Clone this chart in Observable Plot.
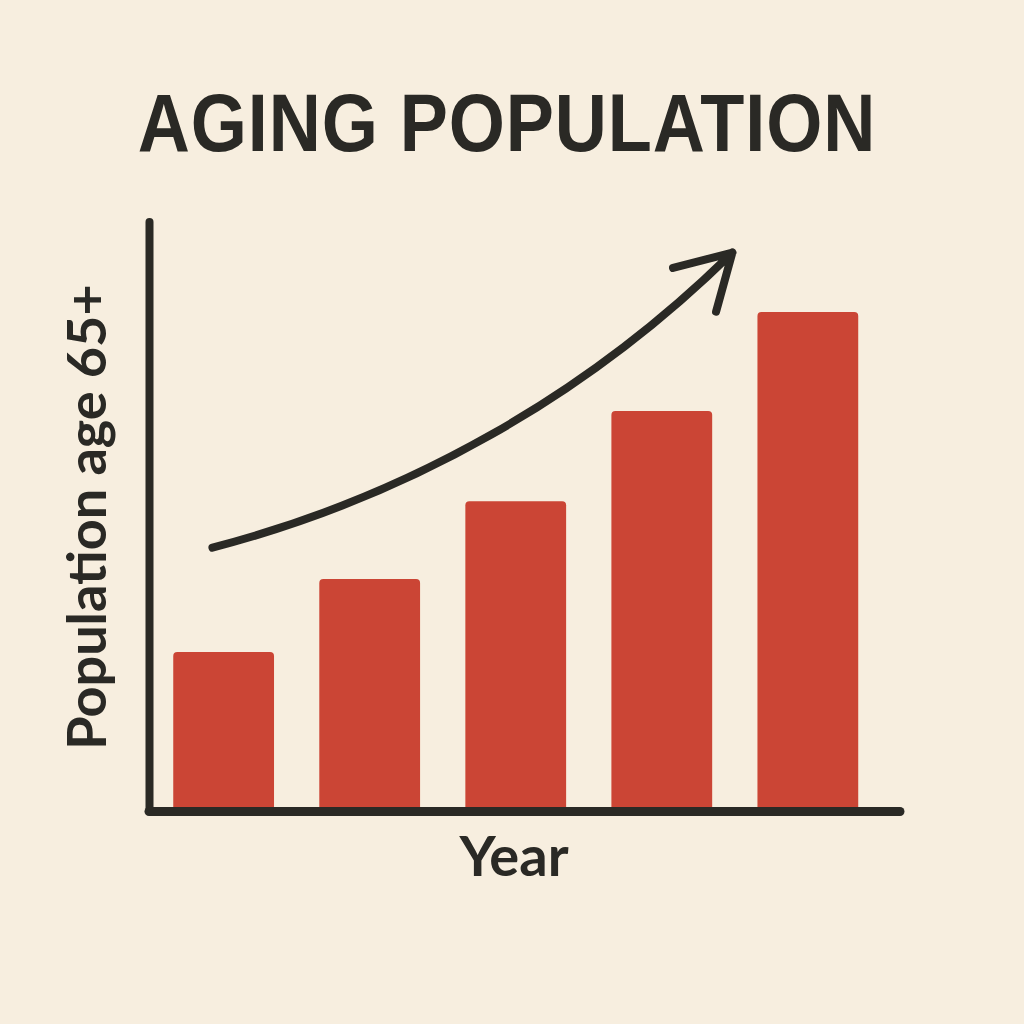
<!DOCTYPE html>
<html>
<head>
<meta charset="utf-8">
<script src="https://cdn.jsdelivr.net/npm/d3@7"></script>
<script src="https://cdn.jsdelivr.net/npm/@observablehq/plot@0.6"></script>
<style>
  html, body { margin: 0; padding: 0; background: #f7eedf; }
  #wrap { width: 1024px; height: 1024px; overflow: hidden; background: #f7eedf; }
  #title { height: 200px; position: relative; }
  #title span {
    position: absolute; left: 0; width: 1024px; top: 78px; text-align: center;
    font-family: "Liberation Sans", Arial, sans-serif; font-weight: 700; font-size: 82px;
    line-height: 90px; color: #2a2925; transform: translateX(-5px) scaleX(0.88); transform-origin: 512px 0;
    letter-spacing: 1px;
  }
  svg { display: block; }
</style>
</head>
<body>
<div id="wrap">
  <div id="title"><span>AGING POPULATION</span></div>
  <div id="chart"></div>
</div>
<script>
// ---- data (relative units, no tick labels shown) ----
const categories = ["1", "2", "3", "4", "5"];
const values = [27.0, 39.4, 52.6, 67.9, 84.7];
const trendX = [0.92, 4.48];   // arrow start / end along the category axis
const trendY = [44.8, 94.9];   // arrow start / end along the value axis
const xLabel = "Year";
const yLabel = "Population age 65+";

const bars = categories.map((c, i) => ({cat: c, pos: i + 1, value: values[i]}));
const trend = [{x1: trendX[0], y1: trendY[0], x2: trendX[1], y2: trendY[1]}];

const xDomain = [0.489, 5.631];
const yDomain = [0, 100];
const ink = "#2a2925";
const barColor = "#cb4535";
const half = 0.345;

const chart = Plot.plot({
  width: 1024,
  height: 824,
  marginLeft: 149,
  marginRight: 124,
  marginTop: 22,
  marginBottom: 213,
  style: {background: "transparent"},
  x: {type: "linear", domain: xDomain, axis: null},
  y: {domain: yDomain, axis: null},
  marks: [
    Plot.rectY(bars, {x1: d => d.pos - half, x2: d => d.pos + half, y1: 0, y2: "value", fill: barColor, rx: 4}),
    Plot.ruleX([xDomain[0]], {y1: yDomain[0], y2: yDomain[1], stroke: ink, strokeWidth: 8, strokeLinecap: "round"}),
    Plot.ruleY([yDomain[0]], {x1: xDomain[0], x2: xDomain[1], stroke: ink, strokeWidth: 9, strokeLinecap: "round"}),
    Plot.arrow(trend, {x1: "x1", y1: "y1", x2: "x2", y2: "y2", bend: -15, stroke: ink, strokeWidth: 8,
      headLength: 11.5, headAngle: 60, strokeLinecap: "round", strokeLinejoin: "round"}),
    Plot.text([yLabel], {frameAnchor: "left", textAnchor: "middle", text: d => d, rotate: -90, dx: -61,
      fontSize: 54, fontWeight: 700, fontFamily: "Lato, sans-serif", fill: ink}),
    Plot.text([xLabel], {frameAnchor: "bottom", textAnchor: "middle", text: d => d, dy: 64, dx: -11,
      fontSize: 56, fontWeight: 700, fontFamily: "Lato, sans-serif", fill: ink})
  ]
});
document.getElementById("chart").appendChild(chart);
</script>
</body>
</html>
